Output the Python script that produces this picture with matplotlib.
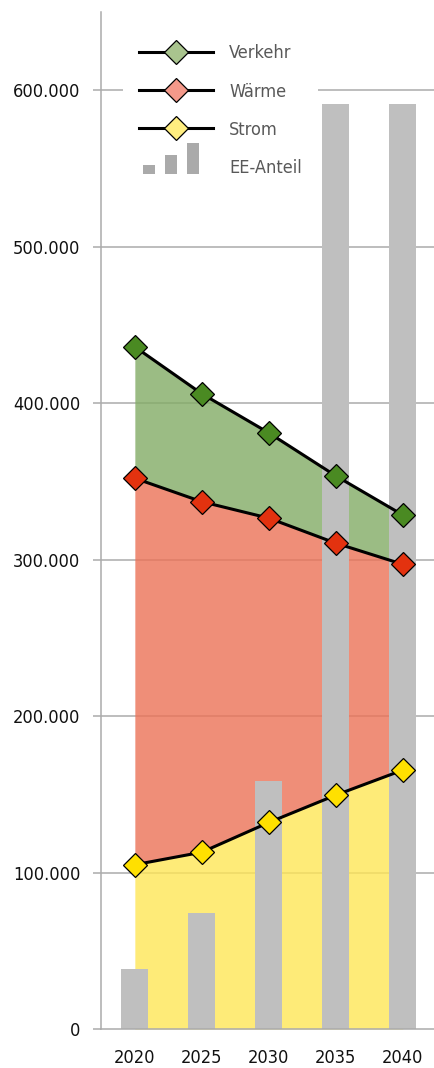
import matplotlib
matplotlib.use("Agg")
import matplotlib.pyplot as plt
import numpy as np
from matplotlib import font_manager as fm
from matplotlib.lines import Line2D
from matplotlib.patches import Rectangle
from matplotlib.legend_handler import HandlerBase

years = ["2020", "2025", "2030", "2035", "2040"]
strom = [105000, 113000, 132000, 149500, 165500]
waerme = [247000, 224000, 194500, 161000, 131500]
verkehr = [84000, 69000, 54500, 43000, 31500]
ee_anteil = [6.5, 12.5, 26.8, 100.0, 100.0]   # percent, hidden secondary axis
EE_AXIS_MAX = 110.0
Y_MAX = 650000
yticks = [0, 100000, 200000, 300000, 400000, 500000, 600000]


def pick_font():
    names = {f.name for f in fm.fontManager.ttflist}
    for n in ['Liberation Sans Narrow', 'Arial Narrow']:
        if n in names:
            return n, 'normal'
    for fam in ['Noto Sans', 'Open Sans', 'Roboto', 'DejaVu Sans']:
        for f in fm.fontManager.ttflist:
            if (f.name == fam and str(f.stretch) in ('condensed', 'semi-condensed')
                    and f.style == 'normal' and str(f.weight) in ('400', 'normal', 'regular', 'book')):
                return fam, f.stretch
    return 'Liberation Sans', 'normal'


FAM, STRETCH = pick_font()
plt.rcParams['font.family'] = [FAM, 'Liberation Sans', 'DejaVu Sans']
plt.rcParams['font.stretch'] = STRETCH

x = np.arange(len(years))
s1 = np.array(strom, float)
s2 = s1 + np.array(waerme, float)
s3 = s2 + np.array(verkehr, float)
bars = np.array(ee_anteil) * Y_MAX / EE_AXIS_MAX

fig = plt.figure(figsize=(4.35, 10.68), dpi=100)
renderer = fig.canvas.get_renderer()
PX = 100 / 72.0


def size_for(s, target_px, cap):
    t = fig.text(0, 0, s, fontsize=10)
    w = t.get_window_extent(renderer).width
    t.remove()
    return min(10 * target_px / w, cap)


tick_fs = size_for("600.000", 68, 17)
leg_fs = size_for("Verkehr", 62, 15.5)

ax = fig.add_axes([101/435, 1 - 1029/1068, 335/435, (1029 - 12)/1068])

grid_c = '#ABABAB'
for v in yticks[1:]:
    ax.axhline(v, color=grid_c, lw=1.1, zorder=0.5)

ax.fill_between(x, 0, s1, color='#FEE656', alpha=0.8, lw=0, zorder=1)
ax.fill_between(x, s1, s2, color='#EC7256', alpha=0.8, lw=0, zorder=1)
ax.fill_between(x, s2, s3, color='#82AC66', alpha=0.8, lw=0, zorder=1)

ax.bar(x, bars, width=0.4, color='#BFBFBF', zorder=2)

lw = 2.2
ms = 12.5
ax.plot(x, s3, color='black', lw=lw, marker='D', ms=ms, mfc='#4A8A22', mec='black', mew=0.9, zorder=3)
ax.plot(x, s2, color='black', lw=lw, marker='D', ms=ms, mfc='#E3320F', mec='black', mew=0.9, zorder=3)
ax.plot(x, s1, color='black', lw=lw, marker='D', ms=ms, mfc='#FFE000', mec='black', mew=0.9, zorder=3)

ax.set_xlim(-0.505, 4.495)
ax.set_ylim(0, Y_MAX)
ax.set_xticks(x)
ax.set_xticklabels(years)
ax.set_yticks(yticks)
ax.set_yticklabels([f"{v:,}".replace(',', '.') for v in yticks])
xpad_px = 25.5 - 0.31 * tick_fs * PX
ax.tick_params(axis='x', length=0, pad=xpad_px / PX, labelsize=tick_fs, labelcolor='#111111')
ax.tick_params(axis='y', length=5.5, width=1.1, color=grid_c, pad=9.5, labelsize=tick_fs, labelcolor='#111111')
for sp in ['top', 'right']:
    ax.spines[sp].set_visible(False)
for sp in ['left', 'bottom']:
    ax.spines[sp].set_color(grid_c)
    ax.spines[sp].set_linewidth(1.1)
    ax.spines[sp].set_zorder(2.5)
ax.patch.set_alpha(0)


class BarsHandler(HandlerBase):
    def create_artists(self, legend, orig_handle, xdescent, ydescent, width, height, fontsize, trans):
        arts = []
        base = height / 2 - 5.0 - ydescent
        for fx, h in [(0.05, 6.5), (0.35, 13.7), (0.65, 22.3)]:
            r = Rectangle((-xdescent + fx * width, base), 0.165 * width, h,
                          facecolor='#AAAAAA', edgecolor='none', transform=trans)
            arts.append(r)
        return arts


class EEHandle:
    pass


handles = [
    Line2D([], [], color='black', lw=lw, marker='D', ms=ms, mfc='#A9C48E', mec='black', mew=0.9),
    Line2D([], [], color='black', lw=lw, marker='D', ms=ms, mfc='#F4998A', mec='black', mew=0.9),
    Line2D([], [], color='black', lw=lw, marker='D', ms=ms, mfc='#FFEE80', mec='black', mew=0.9),
    EEHandle(),
]
labels = ['Verkehr', 'Wärme', 'Strom', 'EE-Anteil']
fpx = leg_fs * PX
leg = ax.legend(handles, labels, handler_map={EEHandle: BarsHandler()},
                loc='upper left', bbox_to_anchor=(0.066, 0.984), borderaxespad=0,
                frameon=True, facecolor='white', edgecolor='none', framealpha=1,
                fontsize=leg_fs, handlelength=74 / fpx, handletextpad=16 / fpx,
                labelspacing=max(37 / fpx - 0.93, 0.1), borderpad=16 / fpx, fancybox=False)
for t in leg.get_texts():
    t.set_color('#595959')
leg.set_zorder(4)

fig.savefig('out.png', dpi=100)
